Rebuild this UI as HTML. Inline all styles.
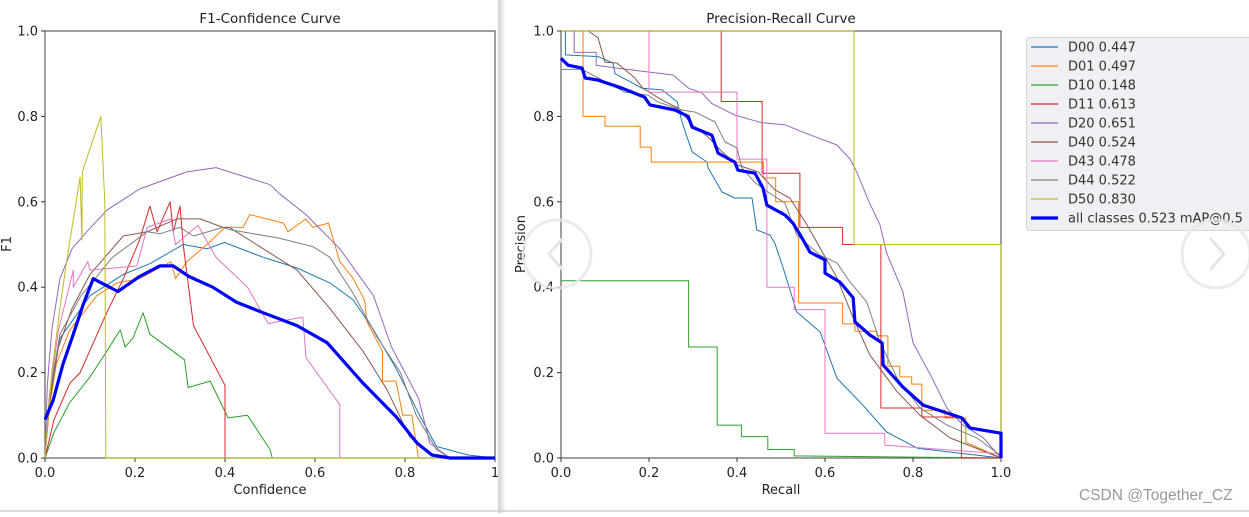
<!DOCTYPE html>
<html><head><meta charset="utf-8"><style>
html,body{margin:0;padding:0;background:#fff;}
body{width:1249px;height:513px;overflow:hidden;position:relative;font-family:"DejaVu Sans","Liberation Sans",sans-serif;}
svg text{font-family:"DejaVu Sans","Liberation Sans",sans-serif;}
</style></head><body>
<svg id="chart" width="1249" height="513" viewBox="0 0 1249 513" xmlns="http://www.w3.org/2000/svg">
<defs>
<clipPath id="clipL"><rect x="0" y="0" width="498" height="513"/></clipPath>
<clipPath id="plotL"><rect x="44" y="30" width="454" height="430"/></clipPath>
<clipPath id="plotR"><rect x="560" y="30" width="443" height="430"/></clipPath>
<linearGradient id="shade" x1="0" x2="1"><stop offset="0" stop-color="#d0d0d0"/><stop offset="1" stop-color="#ffffff"/></linearGradient>
</defs>
<g id="left" clip-path="url(#clipL)"></g>
<rect x="498" y="0" width="8" height="513" fill="url(#shade)"/>
<g id="right"></g>
<line x1="0" y1="511" x2="1249" y2="511" stroke="#cfcfcf" stroke-width="1.5"/>
<text x="1079" y="500" font-size="15.5" fill="#999" style="font-family:'Liberation Sans',sans-serif">CSDN @Together_CZ</text>
</svg>
<script>
const colors=["#1f77b4","#ff7f0e","#2ca02c","#d62728","#9467bd","#8c564b","#e377c2","#7f7f7f","#bcbd22"];
const classNames=["D00","D01","D10","D11","D20","D40","D43","D44","D50"];
const apValues=["0.447","0.497","0.148","0.613","0.651","0.524","0.478","0.522","0.830"];
const allLabel="all classes 0.523 mAP@0.5";
const tickLabels=["0.0","0.2","0.4","0.6","0.8","1.0"];
const tickValues=[0,0.2,0.4,0.6,0.8,1.0];

// F1-confidence series: [confidence, f1]
const f1_D00=[[0,0],[0.008,0.12],[0.018,0.2],[0.033,0.28],[0.1,0.38],[0.174,0.43],[0.233,0.455],[0.307,0.5],[0.36,0.49],[0.4,0.505],[0.41,0.5],[0.485,0.47],[0.5,0.465],[0.56,0.445],[0.633,0.41],[0.685,0.37],[0.73,0.3],[0.78,0.21],[0.83,0.105],[0.87,0.027],[0.94,0.007],[1,0]];
const f1_D01=[[0,0],[0.01,0.12],[0.025,0.22],[0.055,0.3],[0.115,0.38],[0.16,0.41],[0.21,0.42],[0.28,0.46],[0.29,0.42],[0.315,0.46],[0.36,0.5],[0.4,0.54],[0.44,0.54],[0.455,0.57],[0.53,0.55],[0.54,0.53],[0.58,0.56],[0.595,0.54],[0.63,0.55],[0.655,0.46],[0.685,0.42],[0.71,0.37],[0.715,0.32],[0.75,0.25],[0.75,0.18],[0.78,0.18],[0.795,0.1],[0.815,0.1],[0.83,0],[1,0]];
const f1_D10=[[0,0],[0.02,0.06],[0.055,0.13],[0.1,0.19],[0.137,0.25],[0.167,0.3],[0.178,0.26],[0.195,0.28],[0.218,0.34],[0.233,0.29],[0.31,0.23],[0.318,0.165],[0.367,0.18],[0.407,0.094],[0.45,0.1],[0.5,0.02],[0.505,0],[1,0]];
const f1_D11=[[0,0],[0.02,0.09],[0.055,0.175],[0.078,0.2],[0.137,0.34],[0.174,0.42],[0.21,0.51],[0.233,0.59],[0.249,0.53],[0.278,0.6],[0.285,0.53],[0.3,0.59],[0.307,0.5],[0.33,0.31],[0.4,0.17],[0.4,0],[1,0]];
const f1_D20=[[0,0],[0.005,0.17],[0.015,0.3],[0.033,0.42],[0.06,0.49],[0.093,0.53],[0.137,0.58],[0.21,0.63],[0.315,0.67],[0.38,0.68],[0.41,0.67],[0.5,0.64],[0.52,0.62],[0.58,0.57],[0.655,0.49],[0.73,0.38],[0.77,0.26],[0.83,0.14],[0.855,0.035],[0.9,0],[1,0]];
const f1_D40=[[0,0],[0.01,0.13],[0.03,0.26],[0.06,0.35],[0.1,0.43],[0.174,0.52],[0.227,0.53],[0.293,0.56],[0.345,0.56],[0.395,0.54],[0.41,0.54],[0.485,0.49],[0.56,0.44],[0.633,0.35],[0.707,0.25],[0.76,0.16],[0.81,0.05],[0.855,0.01],[0.88,0],[1,0]];
const f1_D43=[[0,0],[0.01,0.15],[0.03,0.3],[0.063,0.44],[0.063,0.4],[0.095,0.46],[0.1,0.44],[0.204,0.45],[0.227,0.54],[0.28,0.56],[0.29,0.5],[0.34,0.545],[0.38,0.47],[0.45,0.4],[0.496,0.315],[0.573,0.33],[0.58,0.235],[0.655,0.125],[0.655,0],[1,0]];
const f1_D44=[[0,0],[0.01,0.14],[0.033,0.29],[0.08,0.38],[0.15,0.47],[0.227,0.53],[0.255,0.525],[0.3,0.54],[0.33,0.52],[0.395,0.54],[0.41,0.535],[0.52,0.515],[0.595,0.495],[0.633,0.47],[0.685,0.385],[0.737,0.285],[0.79,0.2],[0.825,0.1],[0.87,0.02],[0.9,0],[1,0]];
const f1_D50=[[0,0],[0.015,0.2],[0.033,0.35],[0.048,0.46],[0.078,0.658],[0.082,0.51],[0.083,0.67],[0.124,0.8],[0.133,0.6],[0.135,0],[1,0]];
const f1_all=[[0,0.09],[0.018,0.135],[0.04,0.22],[0.063,0.29],[0.085,0.36],[0.107,0.42],[0.162,0.39],[0.21,0.425],[0.255,0.45],[0.285,0.45],[0.32,0.425],[0.373,0.4],[0.425,0.365],[0.485,0.34],[0.56,0.31],[0.627,0.27],[0.707,0.175],[0.78,0.097],[0.827,0.035],[0.86,0.007],[0.9,0],[1,0]];

// PR series: [recall, precision]
const pr_D00=[[0,1],[0.01,1],[0.01,0.944],[0.084,0.94],[0.118,0.925],[0.123,0.9],[0.184,0.866],[0.23,0.862],[0.264,0.834],[0.275,0.787],[0.298,0.717],[0.332,0.693],[0.334,0.68],[0.366,0.623],[0.395,0.609],[0.434,0.609],[0.445,0.534],[0.475,0.522],[0.486,0.503],[0.505,0.445],[0.536,0.342],[0.589,0.295],[0.627,0.187],[0.686,0.124],[0.74,0.061],[0.81,0.023],[1,0]];
const pr_D01=[[0,1],[0.05,1],[0.05,0.8],[0.1,0.8],[0.1,0.777],[0.18,0.777],[0.18,0.728],[0.205,0.728],[0.205,0.693],[0.46,0.693],[0.46,0.656],[0.488,0.656],[0.488,0.6],[0.54,0.6],[0.54,0.363],[0.64,0.363],[0.64,0.314],[0.668,0.314],[0.668,0.297],[0.718,0.297],[0.718,0.286],[0.743,0.286],[0.743,0.215],[0.77,0.215],[0.77,0.19],[0.797,0.19],[0.797,0.173],[0.82,0.173],[0.82,0.112],[0.873,0.112],[0.873,0.094],[0.92,0.094],[0.92,0.037],[1,0]];
const pr_D10=[[0,0.415],[0.29,0.415],[0.29,0.26],[0.355,0.26],[0.355,0.077],[0.41,0.077],[0.41,0.05],[0.47,0.05],[0.47,0.02],[0.53,0.02],[0.53,0.005],[1,0]];
const pr_D11=[[0,1],[0.364,1],[0.364,0.835],[0.457,0.835],[0.457,0.667],[0.543,0.667],[0.543,0.54],[0.64,0.54],[0.64,0.5],[0.727,0.5],[0.727,0.117],[0.82,0.117],[0.82,0.096],[0.91,0.096],[0.91,0],[1,0]];
const pr_D20=[[0,1],[0.03,1],[0.03,0.95],[0.08,0.95],[0.08,0.92],[0.127,0.913],[0.255,0.897],[0.29,0.866],[0.32,0.855],[0.343,0.83],[0.395,0.803],[0.457,0.785],[0.51,0.78],[0.55,0.763],[0.627,0.733],[0.657,0.7],[0.672,0.67],[0.7,0.6],[0.725,0.546],[0.74,0.48],[0.777,0.389],[0.8,0.27],[0.84,0.194],[0.877,0.117],[0.914,0.077],[0.96,0.047],[1,0]];
const pr_D40=[[0,1],[0.062,1],[0.084,0.984],[0.1,0.927],[0.127,0.925],[0.168,0.89],[0.186,0.866],[0.23,0.838],[0.266,0.82],[0.298,0.78],[0.334,0.752],[0.366,0.717],[0.402,0.686],[0.448,0.67],[0.486,0.628],[0.52,0.609],[0.559,0.546],[0.627,0.422],[0.664,0.328],[0.702,0.241],[0.764,0.155],[0.816,0.1],[0.884,0.047],[1,0]];
const pr_D43=[[0,1],[0.2,1],[0.2,0.857],[0.4,0.857],[0.4,0.7],[0.468,0.7],[0.468,0.4],[0.53,0.4],[0.53,0.347],[0.6,0.347],[0.6,0.058],[0.736,0.058],[0.736,0.03],[1,0.01]];
const pr_D44=[[0,0.91],[0.048,0.91],[0.145,0.857],[0.198,0.85],[0.22,0.834],[0.275,0.815],[0.305,0.81],[0.35,0.787],[0.373,0.74],[0.4,0.726],[0.411,0.68],[0.44,0.646],[0.47,0.623],[0.509,0.597],[0.536,0.522],[0.589,0.475],[0.627,0.457],[0.657,0.412],[0.695,0.365],[0.725,0.272],[0.764,0.187],[0.816,0.117],[0.877,0.077],[0.945,0.047],[1,0.005]];
const pr_D50=[[0,1],[0.666,1],[0.666,0.5],[1,0.5],[1,0]];
const pr_all=[[0,0.936],[0.016,0.92],[0.048,0.913],[0.055,0.89],[0.084,0.885],[0.139,0.866],[0.19,0.845],[0.202,0.827],[0.259,0.815],[0.289,0.8],[0.298,0.775],[0.343,0.756],[0.357,0.714],[0.395,0.693],[0.402,0.674],[0.441,0.667],[0.459,0.632],[0.468,0.592],[0.509,0.569],[0.527,0.55],[0.548,0.515],[0.566,0.482],[0.6,0.464],[0.6,0.433],[0.634,0.412],[0.664,0.375],[0.668,0.319],[0.702,0.288],[0.73,0.269],[0.732,0.218],[0.777,0.166],[0.823,0.124],[0.911,0.094],[0.93,0.07],[1,0.058],[1,0]];

const f1Series=[f1_D00,f1_D01,f1_D10,f1_D11,f1_D20,f1_D40,f1_D43,f1_D44,f1_D50];
const prSeries=[pr_D00,pr_D01,pr_D10,pr_D11,pr_D20,pr_D40,pr_D43,pr_D44,pr_D50];

const NS="http://www.w3.org/2000/svg";
function mk(tag,attrs,parent){const e=document.createElementNS(NS,tag);for(const k in attrs)e.setAttribute(k,attrs[k]);parent.appendChild(e);return e;}
const Y0=458,YH=427;
function yS(v){return Y0-v*YH;}
function drawAxes(g,x0,w,title,xl,yl,ylx,lastXLabel){
  const xS=v=>x0+v*w;
  const fr=mk('rect',{x:x0,y:31,width:w,height:YH,fill:'none',stroke:'#6b6b6b','stroke-width':1.3},g);
  
  
  tickValues.forEach((v,i)=>{
    mk('line',{x1:xS(v),y1:Y0,x2:xS(v),y2:Y0+4,stroke:'#333','stroke-width':1},g);
    const t=mk('text',{x:xS(v),y:477,'font-size':13,'text-anchor':'middle',fill:'#222'},g);
    t.textContent=(i==5&&lastXLabel)?lastXLabel:tickLabels[i];
    
    
    mk('line',{x1:x0-4,y1:yS(v),x2:x0,y2:yS(v),stroke:'#333','stroke-width':1},g);
    const u=mk('text',{x:x0-7,y:yS(v)+4.5,'font-size':13,'text-anchor':'end',fill:'#222'},g);
    u.textContent=tickLabels[i];
    
    
  });
  const tt=mk('text',{x:x0+w/2,y:23,'font-size':13.5,'text-anchor':'middle',fill:'#222'},g);tt.textContent=title;
  
  
  const xt=mk('text',{x:x0+w/2,y:494,'font-size':13,'text-anchor':'middle',fill:'#222'},g);xt.textContent=xl;
  
  
  const yt=mk('text',{x:ylx,y:244,'font-size':13,'text-anchor':'middle',fill:'#222',transform:`rotate(-90 ${ylx} 244)`},g);yt.textContent=yl;
  
  
  return xS;
}
function drawLine(g,pts,xS,color,width,clip,name){
  const d=pts.map((p,i)=>(i?'L':'M')+xS(p[0]).toFixed(1)+' '+yS(p[1]).toFixed(1)).join(' ');
  const p=mk('path',{d:d,fill:'none',stroke:color,'stroke-width':width,'stroke-linejoin':'round','clip-path':clip},g);
  
  
}
const L=document.getElementById('left'),R=document.getElementById('right');
const xL=drawAxes(L,45,450,'F1-Confidence Curve','Confidence','F1',11,'1');
f1Series.forEach((s,i)=>drawLine(L,s,xL,colors[i],1,'url(#plotL)','f1-line-'+classNames[i].toLowerCase()));
drawLine(L,f1_all,xL,'#0000ff',3.2,'url(#plotL)','f1-line-all-classes');
const xR=drawAxes(R,561,440,'Precision-Recall Curve','Recall','Precision',525,null);
prSeries.forEach((s,i)=>drawLine(R,s,xR,colors[i],1,'url(#plotR)','pr-line-'+classNames[i].toLowerCase()));
drawLine(R,pr_all,xR,'#0000ff',3.2,'url(#plotR)','pr-line-all-classes');
// legend
const lg=mk('g',{},R);


mk('rect',{x:1026.5,y:37.5,width:240,height:193,rx:3,fill:'#f0f0f4',stroke:'#d6d6d6','stroke-width':1},lg);
classNames.concat(['all']).forEach((n,i)=>{
  const y=47+i*19;
  const e=mk('g',{},lg);
  
  
  mk('line',{x1:1031,y1:y,x2:1058,y2:y,stroke:i<9?colors[i]:'#0000ff','stroke-width':i<9?1.2:3.2},e);
  const t=mk('text',{x:1068,y:y+4.5,'font-size':13,fill:'#333'},e);
  t.textContent=i<9?(n+' '+apValues[i]):allLabel;
});
// faint nav circles
[[557,254],[1216,254]].forEach((c,i)=>{
  const ci=mk('circle',{cx:c[0],cy:c[1],r:34,fill:'none',stroke:'#e6e6e6','stroke-width':3,opacity:0.8},R);
  
  
  const d=i?`M${c[0]-6} ${c[1]-16} L${c[0]+8} ${c[1]} L${c[0]-6} ${c[1]+16}`:`M${c[0]+6} ${c[1]-16} L${c[0]-8} ${c[1]} L${c[0]+6} ${c[1]+16}`;
  mk('path',{d:d,fill:'none',stroke:'#e6e6e6','stroke-width':3},R);
});
</script>
</body></html>
